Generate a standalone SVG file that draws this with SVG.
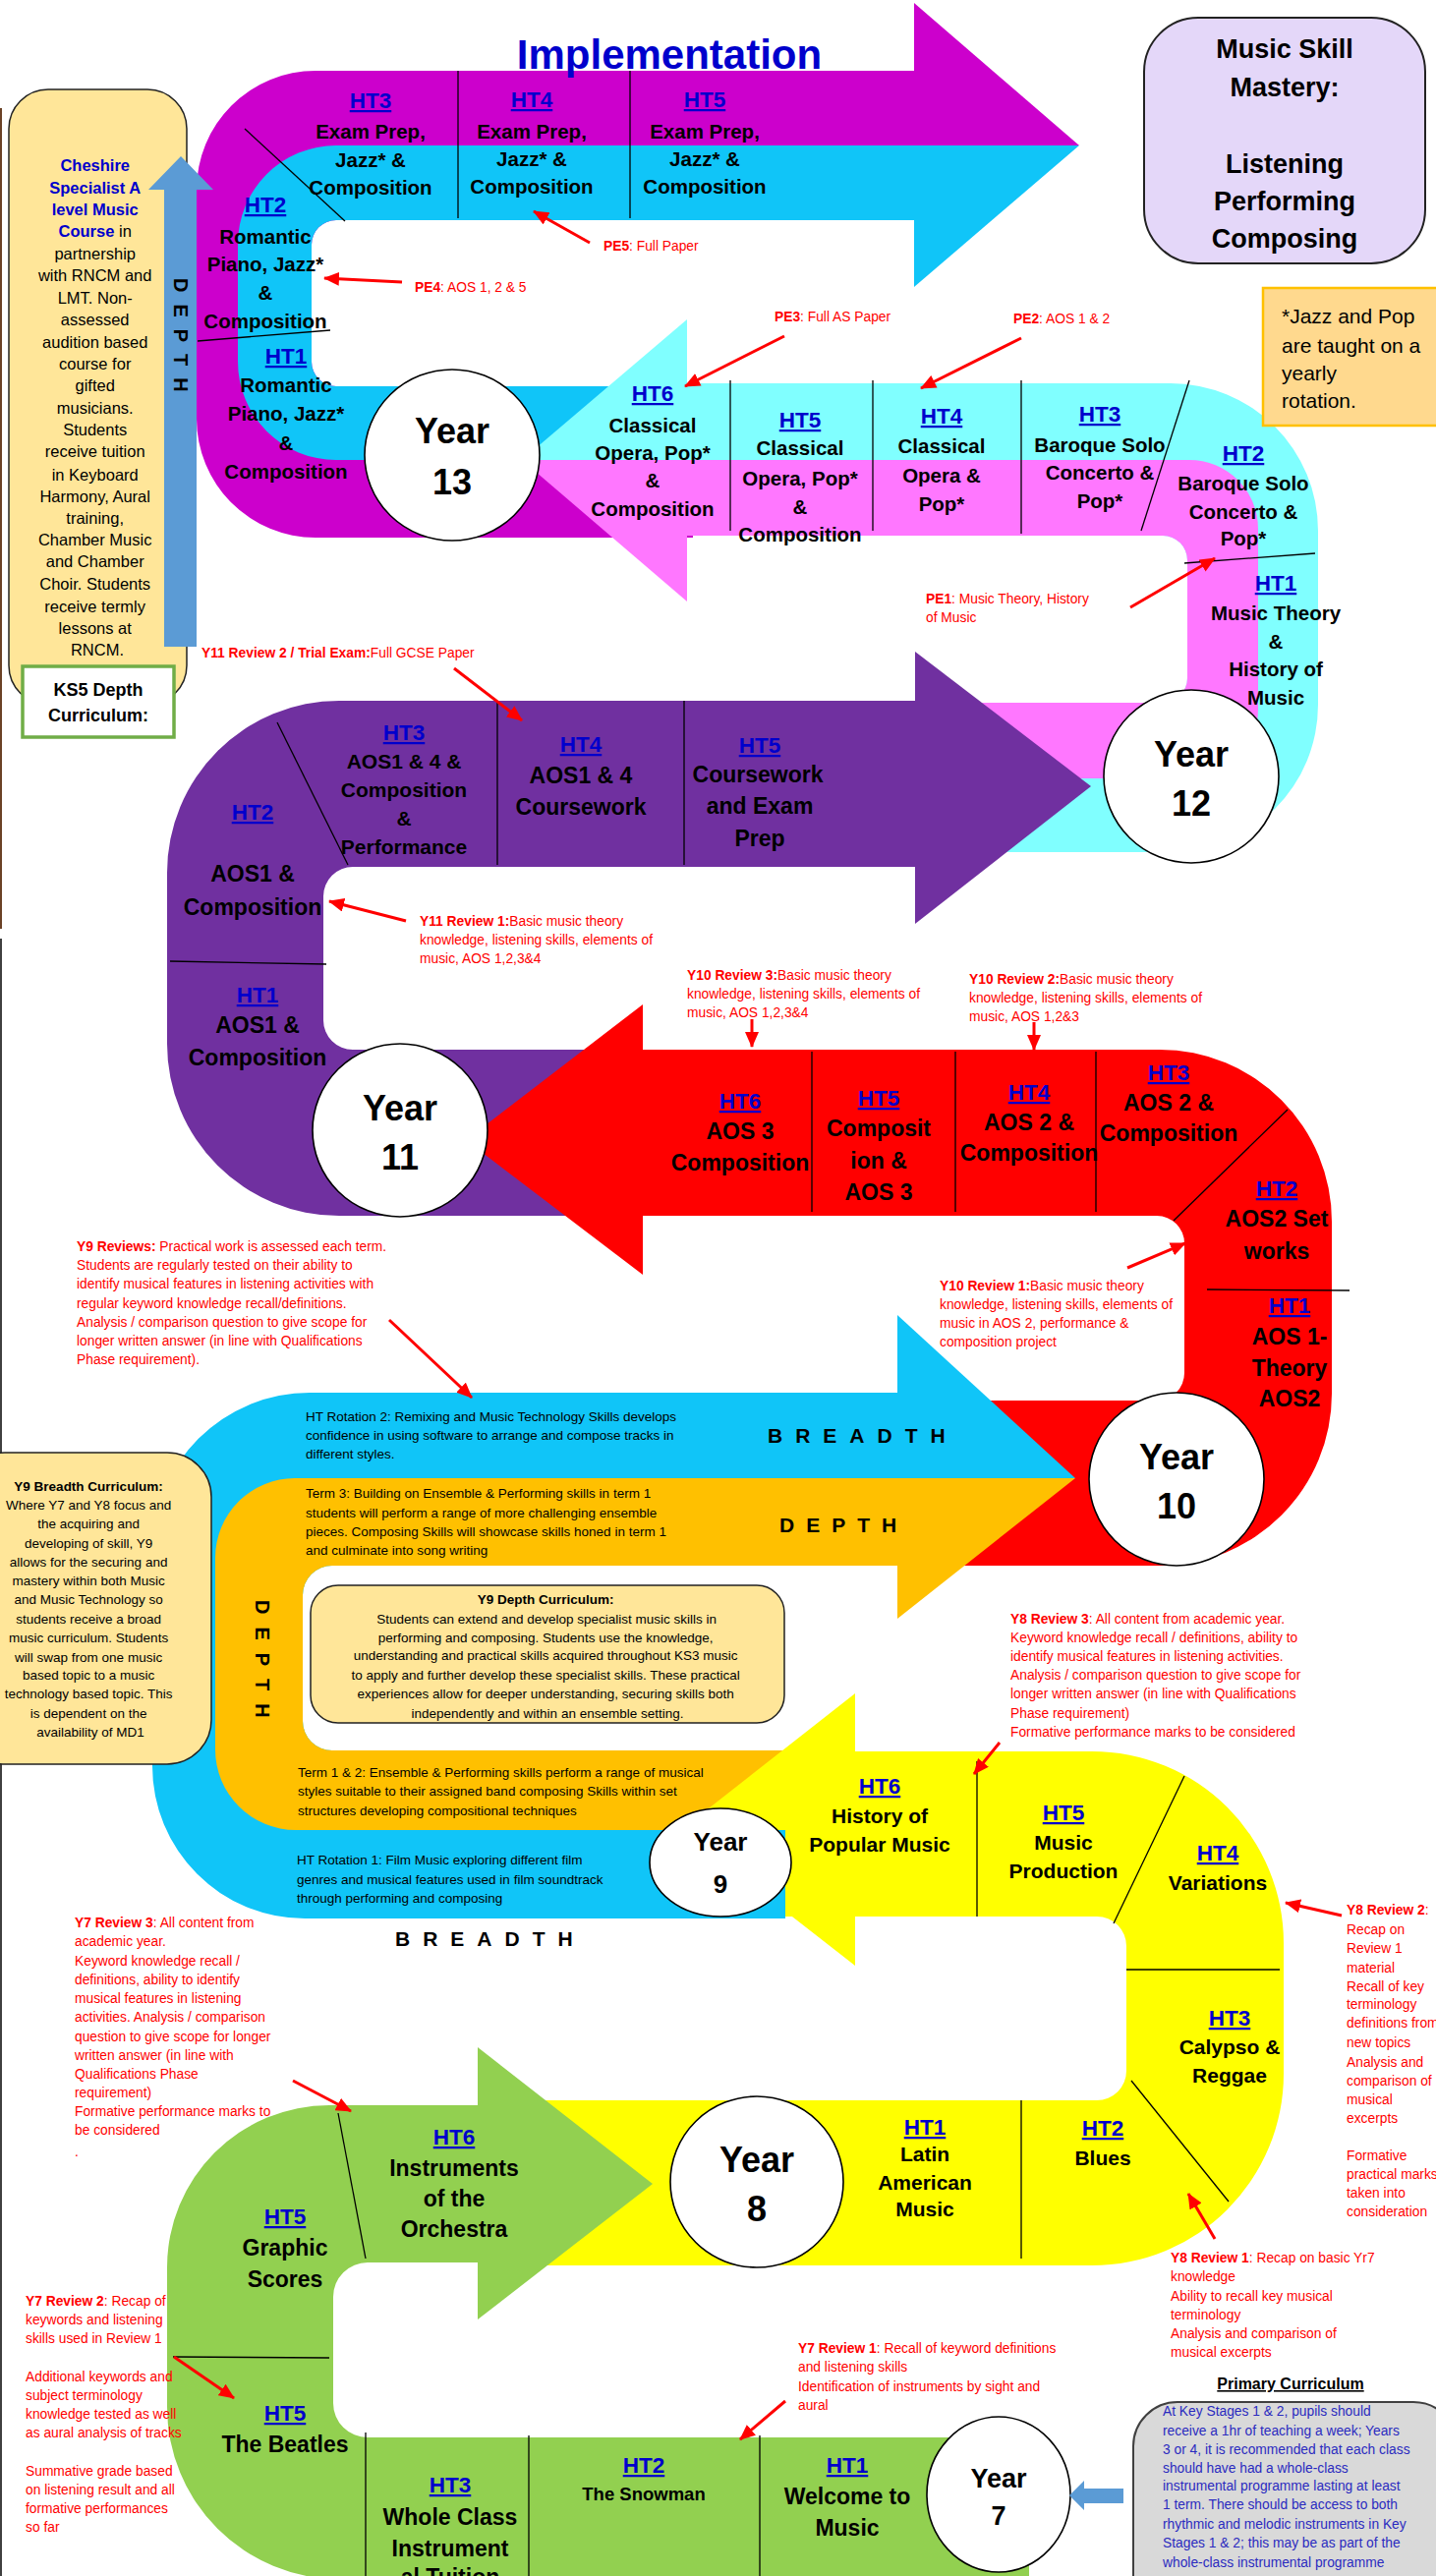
<svg xmlns="http://www.w3.org/2000/svg" width="1461" height="2621" viewBox="0 0 1461 2621">
<defs>
<style>
text{font-family:'Liberation Sans',Arial,Helvetica,sans-serif}
.b{font-weight:bold;text-anchor:middle;fill:#000}
.s20{font-size:20.5px}
.s21{font-size:21px}
.s23{font-size:23px}
.ht{font-weight:bold;text-anchor:middle;fill:#0000CC;font-size:22.5px;text-decoration:underline}
.yr{font-weight:bold;text-anchor:middle;font-size:36px;fill:#000}
.ann{font-size:13.8px;fill:#FF0000}
.k{font-weight:bold}
.bk{font-size:13.5px;fill:#000}
.dv{stroke:#000;stroke-width:1.3;fill:none}
.ar{stroke:#FF0000;stroke-width:3;fill:none;marker-end:url(#ah)}
.cr{fill:#fff;stroke:#000;stroke-width:1.6}
.sp{font-weight:bold;font-size:21px;fill:#000;letter-spacing:13px}
.box{fill:#FFE699;stroke:#222;stroke-width:1.5}
</style>
<marker id="ah" viewBox="0 0 16 14" refX="15" refY="7" markerWidth="16" markerHeight="14" markerUnits="userSpaceOnUse" orient="auto"><path d="M0,0 L16,7 L0,14 z" fill="#FF0000"/></marker>
</defs>
<rect width="1461" height="2621" fill="#fff"/>
<g id="margin">
<line x1="1" y1="110" x2="1" y2="945" stroke="#6B4226" stroke-width="2"/>
<line x1="1" y1="955" x2="1" y2="2621" stroke="#000" stroke-width="1.5"/>
</g>
<g id="y10-review1-under">
<text class="ann"><tspan x="956" y="1313"><tspan class="k">Y10 Review 1:</tspan>Basic music theory</tspan><tspan x="956" y="1332">knowledge, listening skills, elements of</tspan><tspan x="956" y="1351">music in AOS 2, performance &amp;</tspan><tspan x="956" y="1370">composition project</tspan></text>
</g>
<g id="band-y13">
<path fill="#CC00CC" d="M930,72 H321 A121,121 0 0 0 200,193 V426 A121,121 0 0 0 321,547 H705 V393 H342 A25,25 0 0 1 317,368 V249 A25,25 0 0 1 342,224 H930 Z"/>
<path fill="#10C5F8" d="M930,148 H342 A100,100 0 0 0 242,248 V368 A100,100 0 0 0 342,468 H705 V393 H342 A25,25 0 0 1 317,368 V249 A25,25 0 0 1 342,224 H930 Z"/>
<polygon fill="#CC00CC" points="930,3 1098,148 930,148"/>
<polygon fill="#10C5F8" points="930,148 1098,148 930,292"/>
</g>
<g id="band-y12">
<path fill="#80FFFF" d="M699,390 H1191 A150,150 0 0 1 1341,540 V717 A150,150 0 0 1 1191,867 H900 V715 H1183 A25,25 0 0 0 1208,690 V570 A25,25 0 0 0 1183,545 H699 Z"/>
<path fill="#FF77FF" d="M699,468 H1210 A70,70 0 0 1 1280,538 V722 A70,70 0 0 1 1210,792 H900 V715 H1183 A25,25 0 0 0 1208,690 V570 A25,25 0 0 0 1183,545 H699 Z"/>
<polygon fill="#80FFFF" points="699,325 531,468 699,468"/>
<polygon fill="#FF77FF" points="699,468 531,468 699,612"/>
</g>
<g id="band-y11">
<path fill="#7030A0" d="M931,713 H345 A175,175 0 0 0 170,888 V1062 A175,175 0 0 0 345,1237 H700 V1068 H359 A30,30 0 0 1 329,1038 V912 A30,30 0 0 1 359,882 H931 Z"/>
<polygon fill="#7030A0" points="931,663 1110,800 931,940"/>
</g>
<g id="band-y10">
<path fill="#FF0000" d="M654,1068 H1180 A175,175 0 0 1 1355,1243 V1418 A175,175 0 0 1 1180,1593 H913 V1425 H1177 A28,28 0 0 0 1205,1397 V1265 A28,28 0 0 0 1177,1237 H654 Z"/>
<polygon fill="#FF0000" points="654,1022 474,1160 654,1297"/>
</g>
<g id="band-y9">
<path fill="#10C5F8" d="M913,1417 H315 A160,160 0 0 0 155,1577 V1797 A155,155 0 0 0 310,1952 H799 V1781 H338 A30,30 0 0 1 308,1751 V1623 A30,30 0 0 1 338,1593 H913 Z"/>
<path fill="#FFC000" d="M913,1504 H300 A81,81 0 0 0 219,1585 V1780 A82,82 0 0 0 301,1862 H830 V1781 H338 A30,30 0 0 1 308,1751 V1623 A30,30 0 0 1 338,1593 H913 Z"/>
<polygon fill="#10C5F8" points="913,1338 1094,1504 913,1504"/>
<polygon fill="#FFC000" points="913,1504 1094,1504 913,1647"/>
</g>
<g id="band-y8">
<path fill="#FFFF00" d="M799,1782 H1111 A195,195 0 0 1 1306,1977 V2110 A195,195 0 0 1 1111,2305 H540 V2137 H1116 A30,30 0 0 0 1146,2107 V1980 A30,30 0 0 0 1116,1950 H799 Z"/>
<polygon fill="#FFFF00" points="870,1723 693,1862 870,2000"/>
<rect x="700" y="1862" width="99" height="90" fill="#10C5F8"/>
</g>
<g id="band-y7">
<path fill="#92D050" d="M486,2142 H335 A165,165 0 0 0 170,2307 V2449 A175,175 0 0 0 345,2624 H1047 V2480 H374 A35,35 0 0 1 339,2445 V2337 A35,35 0 0 1 374,2302 H486 Z"/>
<polygon fill="#92D050" points="486,2083 664,2222 486,2360"/>
</g>
<g id="dividers">
<line class="dv" x1="466" y1="72" x2="466" y2="222"/>
<line class="dv" x1="641" y1="72" x2="641" y2="222"/>
<line class="dv" x1="249" y1="131" x2="351" y2="225"/>
<line class="dv" x1="201" y1="347" x2="336" y2="336"/>
<line class="dv" x1="743" y1="387" x2="743" y2="540"/>
<line class="dv" x1="888" y1="387" x2="888" y2="540"/>
<line class="dv" x1="1039" y1="387" x2="1039" y2="543"/>
<line class="dv" x1="1210" y1="387" x2="1161" y2="540"/>
<line class="dv" x1="1205" y1="573" x2="1338" y2="563"/>
<line class="dv" x1="506" y1="713" x2="506" y2="880"/>
<line class="dv" x1="696" y1="713" x2="696" y2="880"/>
<line class="dv" x1="282" y1="735" x2="354" y2="880"/>
<line class="dv" x1="173" y1="978" x2="332" y2="981"/>
<line class="dv" x1="826" y1="1070" x2="826" y2="1233"/>
<line class="dv" x1="972" y1="1070" x2="972" y2="1233"/>
<line class="dv" x1="1115" y1="1070" x2="1115" y2="1233"/>
<line class="dv" x1="1310" y1="1129" x2="1194" y2="1242"/>
<line class="dv" x1="1228" y1="1312" x2="1373" y2="1313"/>
<line class="dv" x1="994" y1="1792" x2="994" y2="1950"/>
<line class="dv" x1="1205" y1="1807" x2="1133" y2="1957"/>
<line class="dv" x1="1146" y1="2004" x2="1302" y2="2004" stroke-width="2"/>
<line class="dv" x1="1151" y1="2117" x2="1250" y2="2240"/>
<line class="dv" x1="1039" y1="2137" x2="1039" y2="2298"/>
<line class="dv" x1="344" y1="2150" x2="372" y2="2298"/>
<line class="dv" x1="176" y1="2398" x2="335" y2="2399" stroke-width="2"/>
<line class="dv" x1="372" y1="2475" x2="372" y2="2621"/>
<line class="dv" x1="538" y1="2478" x2="538" y2="2621"/>
<line class="dv" x1="773" y1="2478" x2="773" y2="2621"/>
</g>
<g id="year13"><ellipse class="cr" cx="460" cy="463" rx="89" ry="87"/><text class="yr" x="460" y="451">Year</text><text class="yr" x="460" y="503">13</text></g>
<g id="year12"><ellipse class="cr" cx="1212" cy="790" rx="89" ry="88"/><text class="yr" x="1212" y="780">Year</text><text class="yr" x="1212" y="830">12</text></g>
<g id="year11"><ellipse class="cr" cx="407" cy="1150" rx="89" ry="88"/><text class="yr" x="407" y="1140">Year</text><text class="yr" x="407" y="1190">11</text></g>
<g id="year10"><ellipse class="cr" cx="1197" cy="1505" rx="89" ry="88"/><text class="yr" x="1197" y="1495">Year</text><text class="yr" x="1197" y="1545">10</text></g>
<g id="year9"><ellipse class="cr" cx="733" cy="1895" rx="72" ry="55"/><text class="yr" x="733" y="1883" style="font-size:26px">Year</text><text class="yr" x="733" y="1926" style="font-size:26px">9</text></g>
<g id="year8"><ellipse class="cr" cx="770" cy="2220" rx="88" ry="87"/><text class="yr" x="770" y="2210">Year</text><text class="yr" x="770" y="2260">8</text></g>
<g id="year7"><ellipse class="cr" cx="1016" cy="2538" rx="73" ry="79"/><text class="yr" x="1016" y="2531" style="font-size:27px">Year</text><text class="yr" x="1016" y="2569" style="font-size:27px">7</text></g>

<g id="y13-texts">
<g id="y13-ht3"><text class="ht" x="377" y="110">HT3</text><text class="b s20"><tspan x="377" y="140.5">Exam Prep,</tspan><tspan x="377" y="169.5">Jazz* &amp;</tspan><tspan x="377" y="197.5">Composition</tspan></text></g>
<g id="y13-ht4"><text class="ht" x="541" y="109">HT4</text><text class="b s20"><tspan x="541" y="140.5">Exam Prep,</tspan><tspan x="541" y="168.5">Jazz* &amp;</tspan><tspan x="541" y="196.5">Composition</tspan></text></g>
<g id="y13-ht5"><text class="ht" x="717" y="109">HT5</text><text class="b s20"><tspan x="717" y="140.5">Exam Prep,</tspan><tspan x="717" y="168.5">Jazz* &amp;</tspan><tspan x="717" y="196.5">Composition</tspan></text></g>
<g id="y13-ht2"><text class="ht" x="270" y="216">HT2</text><text class="b s20"><tspan x="270" y="247.5">Romantic</tspan><tspan x="270" y="275.5">Piano, Jazz*</tspan><tspan x="270" y="304.5">&amp;</tspan><tspan x="270" y="333.5">Composition</tspan></text></g>
<g id="y13-ht1"><text class="ht" x="291" y="370">HT1</text><text class="b s20"><tspan x="291" y="398.5">Romantic</tspan><tspan x="291" y="427.5">Piano, Jazz*</tspan><tspan x="291" y="457.5">&amp;</tspan><tspan x="291" y="486.5">Composition</tspan></text></g>
</g>
<g id="y12-texts">
<g id="y12-ht6"><text class="ht" x="664" y="408">HT6</text><text class="b s20"><tspan x="664" y="439.5">Classical</tspan><tspan x="664" y="467.5">Opera, Pop*</tspan><tspan x="664" y="495.5">&amp;</tspan><tspan x="664" y="524.5">Composition</tspan></text></g>
<g id="y12-ht5"><text class="ht" x="814" y="435">HT5</text><text class="b s20"><tspan x="814" y="462.5">Classical</tspan><tspan x="814" y="493.5">Opera, Pop*</tspan><tspan x="814" y="522.5">&amp;</tspan><tspan x="814" y="550.5">Composition</tspan></text></g>
<g id="y12-ht4"><text class="ht" x="958" y="431">HT4</text><text class="b s20"><tspan x="958" y="460.5">Classical</tspan><tspan x="958" y="490.5">Opera &amp;</tspan><tspan x="958" y="519.5">Pop*</tspan></text></g>
<g id="y12-ht3"><text class="ht" x="1119" y="429">HT3</text><text class="b s20"><tspan x="1119" y="459.5">Baroque Solo</tspan><tspan x="1119" y="487.5">Concerto &amp;</tspan><tspan x="1119" y="516.5">Pop*</tspan></text></g>
<g id="y12-ht2"><text class="ht" x="1265" y="469">HT2</text><text class="b s20"><tspan x="1265" y="498.5">Baroque Solo</tspan><tspan x="1265" y="527.5">Concerto &amp;</tspan><tspan x="1265" y="554.5">Pop*</tspan></text></g>
<g id="y12-ht1"><text class="ht" x="1298" y="601">HT1</text><text class="b s20"><tspan x="1298" y="630.5">Music Theory</tspan><tspan x="1298" y="659.5">&amp;</tspan><tspan x="1298" y="687.5">History of</tspan><tspan x="1298" y="716.5">Music</tspan></text></g>
</g>
<g id="y11-texts">
<g id="y11-ht3"><text class="ht" x="411" y="753">HT3</text><text class="b s21"><tspan x="411" y="781.5">AOS1 &amp; 4 &amp;</tspan><tspan x="411" y="810.5">Composition</tspan><tspan x="411" y="839.5">&amp;</tspan><tspan x="411" y="868.5">Performance</tspan></text></g>
<g id="y11-ht4"><text class="ht" x="591" y="765">HT4</text><text class="b s23"><tspan x="591" y="797">AOS1 &amp; 4</tspan><tspan x="591" y="829">Coursework</tspan></text></g>
<g id="y11-ht5"><text class="ht" x="773" y="766">HT5</text><text class="b s23"><tspan x="771" y="796">Coursework</tspan><tspan x="773" y="828">and Exam</tspan><tspan x="773" y="861">Prep</tspan></text></g>
<g id="y11-ht2"><text class="ht" x="257" y="834">HT2</text><text class="b s23"><tspan x="257" y="897">AOS1 &amp;</tspan><tspan x="257" y="931">Composition</tspan></text></g>
<g id="y11-ht1"><text class="ht" x="262" y="1020">HT1</text><text class="b s23"><tspan x="262" y="1051">AOS1 &amp;</tspan><tspan x="262" y="1084">Composition</tspan></text></g>
</g>
<g id="y10-texts">
<g id="y10-ht6"><text class="ht" x="753" y="1128">HT6</text><text class="b s23"><tspan x="753" y="1159">AOS 3</tspan><tspan x="753" y="1191">Composition</tspan></text></g>
<g id="y10-ht5"><text class="ht" x="894" y="1125">HT5</text><text class="b s23"><tspan x="894" y="1156">Composit</tspan><tspan x="894" y="1189">ion &amp;</tspan><tspan x="894" y="1221">AOS 3</tspan></text></g>
<g id="y10-ht4"><text class="ht" x="1047" y="1119">HT4</text><text class="b s23"><tspan x="1047" y="1150">AOS 2 &amp;</tspan><tspan x="1047" y="1181">Composition</tspan></text></g>
<g id="y10-ht3"><text class="ht" x="1189" y="1099">HT3</text><text class="b s23"><tspan x="1189" y="1130">AOS 2 &amp;</tspan><tspan x="1189" y="1161">Composition</tspan></text></g>
<g id="y10-ht2"><text class="ht" x="1299" y="1217">HT2</text><text class="b s23"><tspan x="1299" y="1248">AOS2 Set</tspan><tspan x="1299" y="1281">works</tspan></text></g>
<g id="y10-ht1"><text class="ht" x="1312" y="1336">HT1</text><text class="b s23"><tspan x="1312" y="1368">AOS 1-</tspan><tspan x="1312" y="1400">Theory</tspan><tspan x="1312" y="1431">AOS2</tspan></text></g>
</g>
<g id="y9-texts">
<text class="bk"><tspan x="311" y="1446">HT Rotation 2: Remixing and Music Technology Skills develops</tspan><tspan x="311" y="1465">confidence in using software to arrange and compose tracks in</tspan><tspan x="311" y="1484">different styles.</tspan></text>
<text class="sp" x="781" y="1468">BREADTH</text>
<text class="sp" x="793" y="1559" style="letter-spacing:12px">DEPTH</text>
<text class="bk"><tspan x="311" y="1524">Term 3: Building on Ensemble &amp; Performing skills in term 1</tspan><tspan x="311" y="1544">students will perform a range of more challenging ensemble</tspan><tspan x="311" y="1563">pieces. Composing Skills will showcase skills honed in term 1</tspan><tspan x="311" y="1582">and culminate into song writing</tspan></text>
<text class="sp" transform="translate(260,1628) rotate(90)" style="font-size:20px;letter-spacing:13px">DEPTH</text>
<text class="bk"><tspan x="303" y="1808">Term 1 &amp; 2: Ensemble &amp; Performing skills perform a range of musical</tspan><tspan x="303" y="1827">styles suitable to their assigned band composing Skills within set</tspan><tspan x="303" y="1847">structures developing compositional techniques</tspan></text>
<text class="bk"><tspan x="302" y="1897">HT Rotation 1: Film Music exploring different film</tspan><tspan x="302" y="1917">genres and musical features used in film soundtrack</tspan><tspan x="302" y="1936">through performing and composing</tspan></text>
<text class="sp" x="402" y="1980">BREADTH</text>
</g>
<g id="y8-texts">
<g id="y8-ht6"><text class="ht" x="895" y="1825">HT6</text><text class="b s21"><tspan x="895" y="1854.5">History of</tspan><tspan x="895" y="1883.5">Popular Music</tspan></text></g>
<g id="y8-ht5"><text class="ht" x="1082" y="1852">HT5</text><text class="b s21"><tspan x="1082" y="1881.5">Music</tspan><tspan x="1082" y="1910.5">Production</tspan></text></g>
<g id="y8-ht4"><text class="ht" x="1239" y="1893">HT4</text><text class="b s21"><tspan x="1239" y="1922.5">Variations</tspan></text></g>
<g id="y8-ht3"><text class="ht" x="1251" y="2061">HT3</text><text class="b s21"><tspan x="1251" y="2089.5">Calypso &amp;</tspan><tspan x="1251" y="2118.5">Reggae</tspan></text></g>
<g id="y8-ht2"><text class="ht" x="1122" y="2173">HT2</text><text class="b s21"><tspan x="1122" y="2202.5">Blues</tspan></text></g>
<g id="y8-ht1"><text class="ht" x="941" y="2172">HT1</text><text class="b s21"><tspan x="941" y="2198.5">Latin</tspan><tspan x="941" y="2227.5">American</tspan><tspan x="941" y="2254.5">Music</tspan></text></g>
</g>
<g id="y7-texts">
<g id="y7-ht6"><text class="ht" x="462" y="2182">HT6</text><text class="b s23"><tspan x="462" y="2214">Instruments</tspan><tspan x="462" y="2245">of the</tspan><tspan x="462" y="2276">Orchestra</tspan></text></g>
<g id="y7-ht5a"><text class="ht" x="290" y="2263">HT5</text><text class="b s23"><tspan x="290" y="2295">Graphic</tspan><tspan x="290" y="2327">Scores</tspan></text></g>
<g id="y7-ht5b"><text class="ht" x="290" y="2463">HT5</text><text class="b s23"><tspan x="290" y="2495">The Beatles</tspan></text></g>
<g id="y7-ht3"><text class="ht" x="458" y="2536">HT3</text><text class="b s23"><tspan x="458" y="2569">Whole Class</tspan><tspan x="458" y="2601">Instrument</tspan><tspan x="458" y="2630">al Tuition</tspan></text></g>
<g id="y7-ht2"><text class="ht" x="655" y="2516">HT2</text><text class="b" style="font-size:18.5px"><tspan x="655" y="2543.5">The Snowman</tspan></text></g>
<g id="y7-ht1"><text class="ht" x="862" y="2516">HT1</text><text class="b s23"><tspan x="862" y="2548">Welcome to</tspan><tspan x="862" y="2580">Music</tspan></text></g>
</g>

<g id="cheshire-box">
<rect class="box" x="9" y="91" width="181" height="626" rx="40"/>
<text style="font-size:16.5px;text-anchor:middle" fill="#000">
<tspan x="99" y="174" class="k" fill="#0000CC">Cheshire</tspan>
<tspan x="99" y="197" class="k" fill="#0000CC">Specialist A</tspan>
<tspan x="99" y="219" class="k" fill="#0000CC">level Music</tspan>
<tspan x="99" y="241"><tspan class="k" fill="#0000CC">Course</tspan> in</tspan>
<tspan x="99" y="264">partnership</tspan>
<tspan x="99" y="286">with RNCM and</tspan>
<tspan x="99" y="309">LMT. Non-</tspan>
<tspan x="99" y="331">assessed</tspan>
<tspan x="99" y="354">audition based</tspan>
<tspan x="99" y="376">course for</tspan>
<tspan x="99" y="398">gifted</tspan>
<tspan x="99" y="421">musicians.</tspan>
<tspan x="99" y="443">Students</tspan>
<tspan x="99" y="465">receive tuition</tspan>
<tspan x="99" y="489">in Keyboard</tspan>
<tspan x="99" y="511">Harmony, Aural</tspan>
<tspan x="99" y="533">training,</tspan>
<tspan x="99" y="555">Chamber Music</tspan>
<tspan x="99" y="577">and Chamber</tspan>
<tspan x="99" y="600">Choir. Students</tspan>
<tspan x="99" y="623">receive termly</tspan>
<tspan x="99" y="645">lessons at</tspan>
<tspan x="99" y="667">RNCM.</tspan>
</text>
</g>
<g id="depth-arrow">
<polygon fill="#5B9BD5" points="184,159 217,193 200,193 200,658 167,658 167,193 151,193"/>
<text class="sp" transform="translate(177,283) rotate(90)" style="font-size:20px;letter-spacing:12px">DEPTH</text>
</g>
<g id="ks5-box">
<rect x="23" y="678" width="154" height="72" fill="#fff" stroke="#70AD47" stroke-width="3.5"/>
<text class="b" style="font-size:18px"><tspan x="100" y="708">KS5 Depth</tspan><tspan x="100" y="734">Curriculum:</tspan></text>
</g>
<g id="mastery-box">
<rect x="1164" y="18" width="286" height="250" rx="55" fill="#E4D7F9" stroke="#222" stroke-width="2"/>
<text class="b" style="font-size:27px"><tspan x="1307" y="59">Music Skill</tspan><tspan x="1307" y="98">Mastery:</tspan><tspan x="1307" y="176">Listening</tspan><tspan x="1307" y="214">Performing</tspan><tspan x="1307" y="252">Composing</tspan></text>
</g>
<g id="jazz-box">
<rect x="1285" y="293" width="190" height="140" fill="#FFD98E" stroke="#FFC000" stroke-width="2.5"/>
<text style="font-size:21px" fill="#000"><tspan x="1304" y="329">*Jazz and Pop</tspan><tspan x="1304" y="359">are taught on a</tspan><tspan x="1304" y="387">yearly</tspan><tspan x="1304" y="415">rotation.</tspan></text>
</g>
<g id="y9-breadth-box">
<rect class="box" x="-40" y="1478" width="255" height="317" rx="45"/>
<text style="font-size:13.5px;text-anchor:middle" fill="#000">
<tspan x="92" y="1517" class="k">Y9 Breadth Curriculum:</tspan>
<tspan x="92" y="1536">Where Y7 and Y8 focus and</tspan>
<tspan x="92" y="1555">the acquiring and</tspan>
<tspan x="92" y="1575">developing of skill, Y9</tspan>
<tspan x="92" y="1594">allows for the securing and</tspan>
<tspan x="92" y="1613">mastery within both Music</tspan>
<tspan x="92" y="1632">and Music Technology so</tspan>
<tspan x="92" y="1652">students receive a broad</tspan>
<tspan x="92" y="1671">music curriculum. Students</tspan>
<tspan x="92" y="1691">will swap from one music</tspan>
<tspan x="92" y="1709">based topic to a music</tspan>
<tspan x="92" y="1728">technology based topic. This</tspan>
<tspan x="92" y="1748">is dependent on the</tspan>
<tspan x="92" y="1767">availability of MD1</tspan>
</text>
</g>
<g id="y9-depth-box">
<rect class="box" x="316" y="1613" width="482" height="140" rx="28"/>
<text style="font-size:13.5px;text-anchor:middle" fill="#000">
<tspan x="557" y="1632" class="k">Y9 Depth Curriculum:</tspan>
<tspan x="558" y="1652">Students can extend and develop specialist music skills in</tspan>
<tspan x="557" y="1671">performing and composing. Students use the knowledge,</tspan>
<tspan x="557" y="1689">understanding and practical skills acquired throughout KS3 music</tspan>
<tspan x="557" y="1709">to apply and further develop these specialist skills. These practical</tspan>
<tspan x="557" y="1728">experiences allow for deeper understanding, securing skills both</tspan>
<tspan x="557" y="1748">independently and within an ensemble setting.</tspan>
</text>
</g>
<g id="primary-box">
<text class="b" x="1313" y="2431" style="font-size:16px;text-decoration:underline">Primary Curriculum</text>
<rect x="1153" y="2444" width="330" height="230" rx="45" fill="#D9D9D9" stroke="#404040" stroke-width="2"/>
<text style="font-size:13.8px" fill="#2B2BC0">
<tspan x="1183" y="2458">At Key Stages 1 &amp; 2, pupils should</tspan>
<tspan x="1183" y="2478">receive a 1hr of teaching a week;  Years</tspan>
<tspan x="1183" y="2497">3 or 4, it is recommended that each class</tspan>
<tspan x="1183" y="2516">should have had a whole-class</tspan>
<tspan x="1183" y="2534">instrumental programme lasting at least</tspan>
<tspan x="1183" y="2553">1 term. There should be access to both</tspan>
<tspan x="1183" y="2573">rhythmic and melodic instruments in Key</tspan>
<tspan x="1183" y="2592">Stages 1 &amp; 2; this may be as part of the</tspan>
<tspan x="1183" y="2612">whole-class instrumental programme</tspan>
</text>
</g>

<g id="annotations">
<text class="ann"><tspan x="614" y="255"><tspan class="k">PE5</tspan>: Full Paper</tspan></text>
<text class="ann"><tspan x="422" y="297"><tspan class="k">PE4</tspan>: AOS 1, 2 &amp; 5</tspan></text>
<text class="ann"><tspan x="788" y="327"><tspan class="k">PE3</tspan>: Full AS Paper</tspan></text>
<text class="ann"><tspan x="1031" y="329"><tspan class="k">PE2</tspan>: AOS 1 &amp; 2</tspan></text>
<text class="ann"><tspan x="942" y="614"><tspan class="k">PE1</tspan>: Music Theory, History</tspan><tspan x="942" y="633">of Music</tspan></text>
<text class="ann"><tspan x="205" y="669"><tspan class="k">Y11 Review 2 / Trial Exam:</tspan>Full GCSE Paper</tspan></text>
<text class="ann"><tspan x="427" y="942"><tspan class="k">Y11 Review 1:</tspan>Basic music theory</tspan><tspan x="427" y="961">knowledge, listening skills, elements of</tspan><tspan x="427" y="980">music, AOS 1,2,3&amp;4</tspan></text>
<text class="ann"><tspan x="699" y="997"><tspan class="k">Y10 Review 3:</tspan>Basic music theory</tspan><tspan x="699" y="1016">knowledge, listening skills, elements of</tspan><tspan x="699" y="1035">music, AOS 1,2,3&amp;4</tspan></text>
<text class="ann"><tspan x="986" y="1001"><tspan class="k">Y10 Review 2:</tspan>Basic music theory</tspan><tspan x="986" y="1020">knowledge, listening skills, elements of</tspan><tspan x="986" y="1039">music, AOS 1,2&amp;3</tspan></text>
<text class="ann"><tspan x="78" y="1273"><tspan class="k">Y9 Reviews:</tspan> Practical work is assessed each term.</tspan><tspan x="78" y="1292">Students are regularly tested on their ability to</tspan><tspan x="78" y="1311">identify musical features in listening activities with</tspan><tspan x="78" y="1331">regular keyword knowledge recall/definitions.</tspan><tspan x="78" y="1350">Analysis / comparison question to give scope for</tspan><tspan x="78" y="1369">longer written answer (in line with Qualifications</tspan><tspan x="78" y="1388">Phase requirement).</tspan></text>
<text class="ann"><tspan x="1028" y="1652"><tspan class="k">Y8 Review 3</tspan>: All content from academic year.</tspan><tspan x="1028" y="1671">Keyword knowledge recall / definitions, ability to</tspan><tspan x="1028" y="1690">identify musical features in listening activities.</tspan><tspan x="1028" y="1709">Analysis / comparison question to give scope for</tspan><tspan x="1028" y="1728">longer written answer (in line with Qualifications</tspan><tspan x="1028" y="1748">Phase requirement)</tspan><tspan x="1028" y="1767">Formative performance marks to be considered</tspan></text>
<text class="ann"><tspan x="1370" y="1948"><tspan class="k">Y8 Review 2</tspan>:</tspan><tspan x="1370" y="1968">Recap on</tspan><tspan x="1370" y="1987">Review 1</tspan><tspan x="1370" y="2007">material</tspan><tspan x="1370" y="2026">Recall of key</tspan><tspan x="1370" y="2044">terminology</tspan><tspan x="1370" y="2063">definitions from</tspan><tspan x="1370" y="2083">new topics</tspan><tspan x="1370" y="2103">Analysis and</tspan><tspan x="1370" y="2122">comparison of</tspan><tspan x="1370" y="2141">musical</tspan><tspan x="1370" y="2160">excerpts</tspan><tspan x="1370" y="2198">Formative</tspan><tspan x="1370" y="2217">practical marks</tspan><tspan x="1370" y="2236">taken into</tspan><tspan x="1370" y="2255">consideration</tspan></text>
<text class="ann"><tspan x="1191" y="2302"><tspan class="k">Y8 Review 1</tspan>: Recap on basic Yr7</tspan><tspan x="1191" y="2321">knowledge</tspan><tspan x="1191" y="2341">Ability to recall key musical</tspan><tspan x="1191" y="2360">terminology</tspan><tspan x="1191" y="2379">Analysis and comparison of</tspan><tspan x="1191" y="2398">musical excerpts</tspan></text>
<text class="ann"><tspan x="76" y="1961"><tspan class="k">Y7 Review 3</tspan>: All content from</tspan><tspan x="76" y="1980">academic year.</tspan><tspan x="76" y="2000">Keyword knowledge recall /</tspan><tspan x="76" y="2019">definitions, ability to identify</tspan><tspan x="76" y="2038">musical features in listening</tspan><tspan x="76" y="2057">activities. Analysis / comparison</tspan><tspan x="76" y="2077">question to give scope for longer</tspan><tspan x="76" y="2096">written answer (in line with</tspan><tspan x="76" y="2115">Qualifications Phase</tspan><tspan x="76" y="2134">requirement)</tspan><tspan x="76" y="2153">Formative performance marks to</tspan><tspan x="76" y="2172">be considered</tspan><tspan x="76" y="2194">.</tspan></text>
<text class="ann"><tspan x="26" y="2346"><tspan class="k">Y7 Review 2</tspan>: Recap of</tspan><tspan x="26" y="2365">keywords and listening</tspan><tspan x="26" y="2384">skills used in Review 1</tspan><tspan x="26" y="2423">Additional keywords and</tspan><tspan x="26" y="2442">subject terminology</tspan><tspan x="26" y="2461">knowledge tested as well</tspan><tspan x="26" y="2480">as aural analysis of tracks</tspan><tspan x="26" y="2519">Summative grade based</tspan><tspan x="26" y="2538">on listening result and all</tspan><tspan x="26" y="2557">formative performances</tspan><tspan x="26" y="2576">so far</tspan></text>
<text class="ann"><tspan x="812" y="2394"><tspan class="k">Y7 Review 1</tspan>: Recall of keyword definitions</tspan><tspan x="812" y="2413">and listening skills</tspan><tspan x="812" y="2433">Identification of instruments by sight and</tspan><tspan x="812" y="2452">aural</tspan></text>
</g>

<g id="connectors">
<line class="ar" x1="600" y1="247" x2="543" y2="215"/>
<line class="ar" x1="409" y1="287" x2="330" y2="283"/>
<line class="ar" x1="798" y1="342" x2="697" y2="393"/>
<line class="ar" x1="1039" y1="344" x2="937" y2="395"/>
<line class="ar" x1="1150" y1="618" x2="1236" y2="568"/>
<line class="ar" x1="462" y1="680" x2="531" y2="733"/>
<line class="ar" x1="413" y1="937" x2="335" y2="917"/>
<line class="ar" x1="765" y1="1037" x2="765" y2="1065"/>
<line class="ar" x1="1052" y1="1040" x2="1052" y2="1068"/>
<line class="ar" x1="1147" y1="1290" x2="1206" y2="1265"/>
<line class="ar" x1="396" y1="1343" x2="480" y2="1422"/>
<line class="ar" x1="1017" y1="1773" x2="991" y2="1805"/>
<line class="ar" x1="1365" y1="1949" x2="1308" y2="1936"/>
<line class="ar" x1="1236" y1="2278" x2="1209" y2="2232"/>
<line class="ar" x1="298" y1="2117" x2="357" y2="2148"/>
<line class="ar" x1="177" y1="2398" x2="238" y2="2440"/>
<line class="ar" x1="799" y1="2443" x2="753" y2="2482"/>
<polygon fill="#5B9BD5" points="1088,2539 1103,2524 1103,2532 1143,2532 1143,2547 1103,2547 1103,2554"/>
</g>
<text id="title" x="681" y="70" style="font-size:42px;font-weight:bold;text-anchor:middle" fill="#0000CC">Implementation</text>
</svg>
